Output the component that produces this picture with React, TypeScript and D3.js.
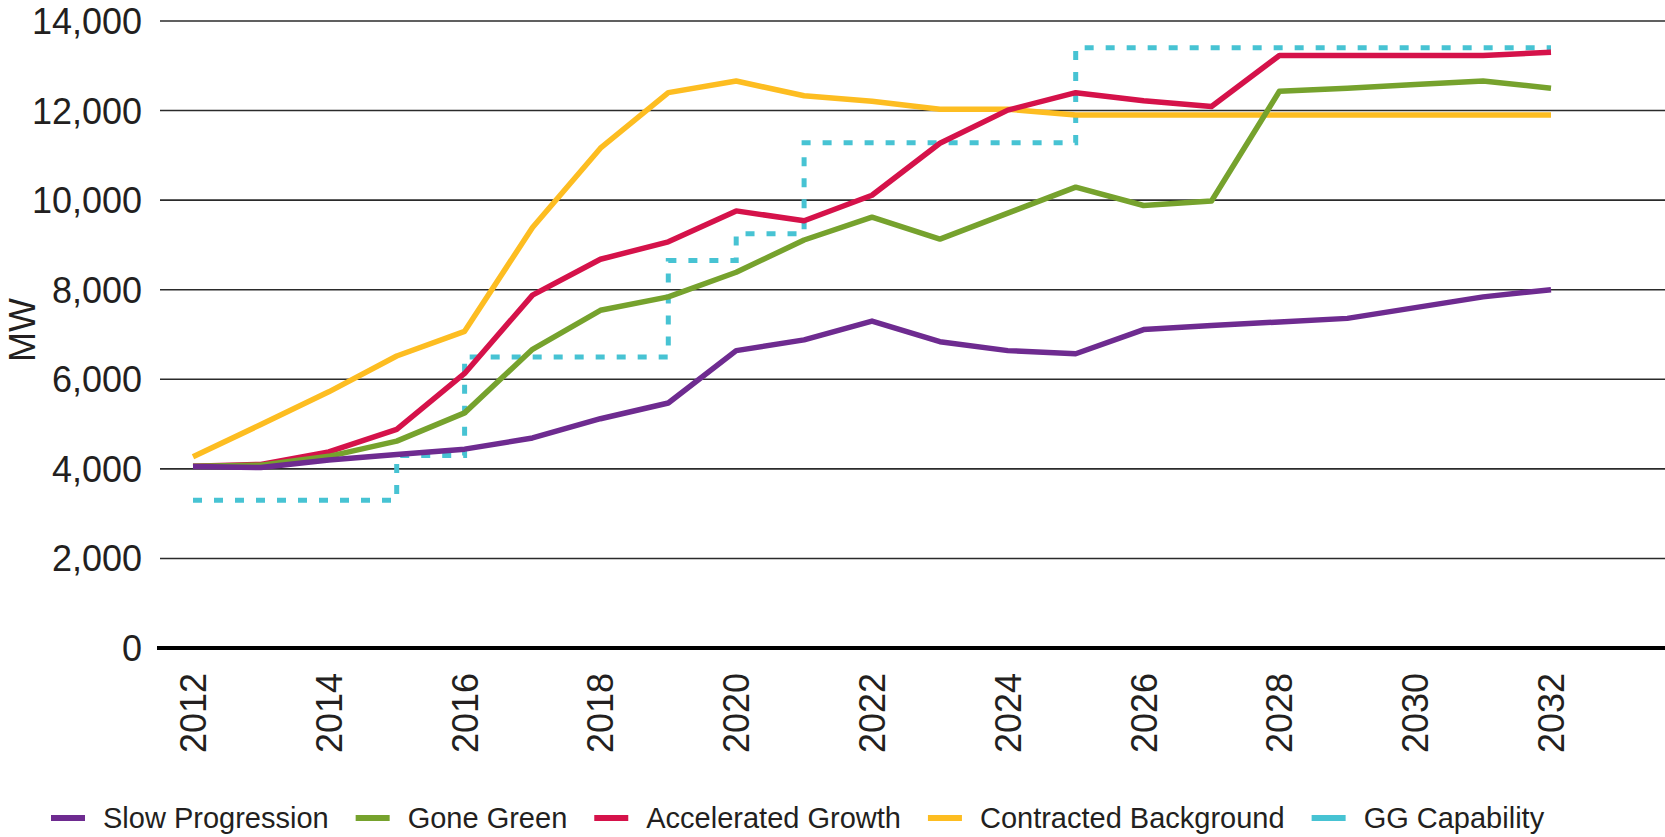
import React, { useEffect, useRef } from 'react';
import * as d3 from 'd3';

const years = [2012, 2013, 2014, 2015, 2016, 2017, 2018, 2019, 2020, 2021, 2022,
    2023, 2024, 2025, 2026, 2027, 2028, 2029, 2030, 2031, 2032];

const slowProgression = [4050, 4030, 4200, 4320, 4440, 4690, 5120, 5470, 6640, 6880, 7300,
    6840, 6640, 6570, 7110, 7200, 7280, 7360, 7600, 7840, 8000];
const goneGreen = [4060, 4080, 4280, 4620, 5250, 6670, 7540, 7840, 8390, 9110, 9620,
    9130, 9710, 10290, 9880, 9980, 12430, 12500, 12580, 12660, 12500];
const acceleratedGrowth = [4060, 4100, 4380, 4880, 6130, 7880, 8680, 9070, 9760, 9540, 10110,
    11270, 12010, 12400, 12220, 12090, 13230, 13230, 13230, 13230, 13300];
const contractedBackground = [4270, 4990, 5720, 6520, 7070, 9390, 11160, 12400, 12660, 12330, 12210,
    12030, 12030, 11900, 11900, 11900, 11900, 11900, 11900, 11900, 11900];
const ggCapability = [3300, 3300, 3300, 4300, 6500, 6500, 6500, 8650, 9250, 11280, 11280,
    11280, 11280, 13400, 13400, 13400, 13400, 13400, 13400, 13400, 13400];

const yTicks = [0, 2000, 4000, 6000, 8000, 10000, 12000, 14000];
const xTicks = [2012, 2014, 2016, 2018, 2020, 2022, 2024, 2026, 2028, 2030, 2032];

const seriesNames = ['Slow Progression', 'Gone Green', 'Accelerated Growth', 'Contracted Background', 'GG Capability'];

const colors: Record<string, string> = {
    'Slow Progression': '#6e2b90',
    'Gone Green': '#76a22d',
    'Accelerated Growth': '#d5124a',
    'Contracted Background': '#fdbd21',
    'GG Capability': '#47c3d3',
};

const width = 1665;
const height = 837;
const font = '"Liberation Sans", Arial, Helvetica, sans-serif';
const textColor = '#231f20';

const App: React.FC = () => {
    const svgRef = useRef<SVGSVGElement | null>(null);

    useEffect(() => {
        document.body.style.margin = '0';

        const svg = d3.select(svgRef.current)
            .attr('width', width)
            .attr('height', height);

        svg.selectAll('*').remove();

        const xScale = d3.scaleLinear()
            .domain([2012, 2032])
            .range([193, 1551]);

        const yScale = d3.scaleLinear()
            .domain([0, 14000])
            .range([648, 21]);

        // gridlines
        svg.append('g')
            .selectAll('line')
            .data(yTicks.filter(d => d > 0))
            .join('line')
            .attr('x1', 160)
            .attr('x2', width)
            .attr('y1', d => yScale(d))
            .attr('y2', d => yScale(d))
            .attr('stroke', '#2b2b2b')
            .attr('stroke-width', 1.6);

        // y labels
        svg.append('g')
            .selectAll('text')
            .data(yTicks)
            .join('text')
            .attr('x', 142)
            .attr('y', d => yScale(d))
            .attr('dy', '0.36em')
            .attr('text-anchor', 'end')
            .attr('font-family', font)
            .attr('font-size', 36)
            .attr('fill', textColor)
            .text(d => d3.format(',')(d));

        // y axis title
        svg.append('text')
            .attr('transform', `translate(22,330) rotate(-90)`)
            .attr('dy', '0.36em')
            .attr('text-anchor', 'middle')
            .attr('font-family', font)
            .attr('font-size', 36)
            .attr('fill', textColor)
            .text('MW');

        // x labels
        svg.append('g')
            .selectAll('text')
            .data(xTicks)
            .join('text')
            .attr('transform', d => `translate(${xScale(d)},673) rotate(-90)`)
            .attr('dy', '0.36em')
            .attr('text-anchor', 'end')
            .attr('font-family', font)
            .attr('font-size', 36)
            .attr('fill', textColor)
            .text(d => String(d));

        const seriesData: Record<string, number[]> = {
            'Slow Progression': slowProgression,
            'Gone Green': goneGreen,
            'Accelerated Growth': acceleratedGrowth,
            'Contracted Background': contractedBackground,
            'GG Capability': ggCapability,
        };

        const line = d3.line<number>()
            .x((_, i) => xScale(years[i]))
            .y(d => yScale(d));

        const stepLine = d3.line<number>()
            .x((_, i) => xScale(years[i]))
            .y(d => yScale(d))
            .curve(d3.curveStepAfter);

        // GG capability dashed step
        svg.append('path')
            .datum(seriesData['GG Capability'])
            .attr('fill', 'none')
            .attr('stroke', colors['GG Capability'])
            .attr('stroke-width', 5)
            .attr('stroke-dasharray', '9,12')
            .attr('d', stepLine);

        ['Contracted Background', 'Accelerated Growth', 'Gone Green', 'Slow Progression'].forEach(name => {
            svg.append('path')
                .datum(seriesData[name])
                .attr('fill', 'none')
                .attr('stroke', colors[name])
                .attr('stroke-width', 5.5)
                .attr('stroke-linejoin', 'round')
                .attr('d', line);
        });

        // zero axis
        svg.append('line')
            .attr('x1', 157)
            .attr('x2', width)
            .attr('y1', yScale(0))
            .attr('y2', yScale(0))
            .attr('stroke', '#000')
            .attr('stroke-width', 4);

        // legend
        const legend = svg.append('g').attr('transform', 'translate(51,818)');
        let x = 0;
        seriesNames.forEach(name => {
            legend.append('rect')
                .attr('x', x)
                .attr('y', -3)
                .attr('width', 34)
                .attr('height', 6)
                .attr('fill', colors[name]);
            const t = legend.append('text')
                .attr('x', x + 52)
                .attr('y', 0)
                .attr('dy', '0.36em')
                .attr('font-family', font)
                .attr('font-size', 29)
                .attr('fill', textColor)
                .text(name);
            const w = (t.node() as SVGTextElement).getComputedTextLength();
            x += 52 + w + 27;
        });
    }, []);

    return <svg ref={svgRef} style={{ display: 'block' }}></svg>;
};

export default App;
